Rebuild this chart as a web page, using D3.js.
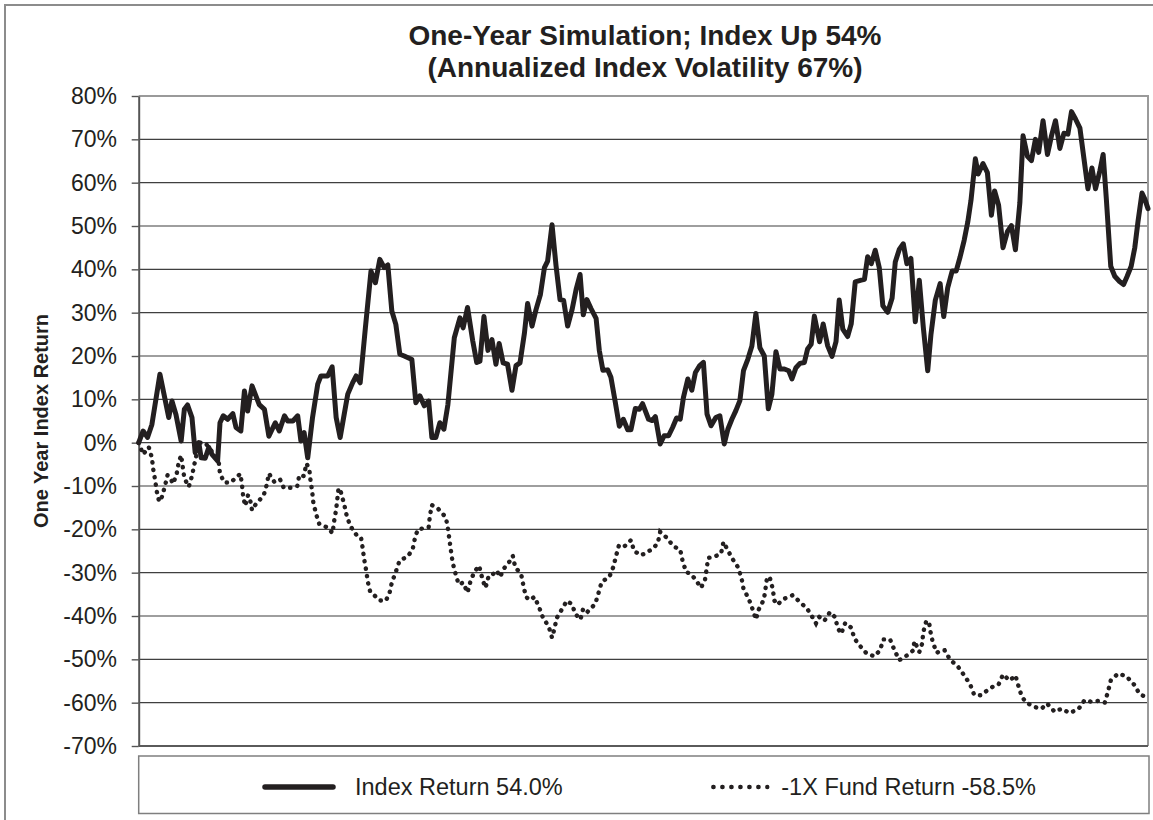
<!DOCTYPE html>
<html>
<head>
<meta charset="utf-8">
<style>
    body { margin: 0; background: #fff; }
    svg { display: block; font-family: "Liberation Sans", Arial, sans-serif; }
</style>
</head>
<body>
<script src="https://cdn.jsdelivr.net/npm/d3@7/dist/d3.min.js"></script>
<script>
// chart data (x = trading day, y = return in %)
const titleLines = ["One-Year Simulation; Index Up 54%", "(Annualized Index Volatility 67%)"]
const yTitle = "One Year Index Return"
const yTicks = [-70, -60, -50, -40, -30, -20, -10, 0, 10, 20, 30, 40, 50, 60, 70, 80]
const legendLabels = ["Index Return 54.0%", "-1X Fund Return -58.5%"]

const indexDays = [0,1.1,2.2,3.3,5.3,7.5,8.3,9.3,10.6,11.4,12.2,13.3,14.1,15,15.6,16.6,17.5,18.3,19.7,20.3,
    21.1,22.2,23.5,24.3,25.5,26.4,27.2,28.3,30.1,31.4,32.5,34.1,35.1,36.4,37.2,38.5,39.7,40.5,41.3,42.2,
    43.4,44.7,45.5,47.2,48.3,49.3,50.3,51.3,52.2,53.4,54.3,55.3,56.6,58,59.1,60.2,61.3,62.2,63.2,64.2,
    65.2,66.3,68.2,69.2,70.2,71.3,72.4,73.2,74.2,75.2,76.2,77.2,78.8,80.2,81,82.1,83.4,84.4,85.2,86.2,
    87.2,88.2,89.2,90,91,92.1,93.2,94.2,95.2,96.3,97.1,98.2,99.2,100.3,101.3,102.1,103.2,104.2,105.2,106.1,
    107.1,108.2,109.2,110.2,111,111.9,112.9,114.2,115,115.9,117.1,117.9,119,120,121,122.1,122.9,124,125,125.8,
    127.3,128.2,129,130.2,131.2,132.3,133.3,134.3,135.2,136,137.1,138.1,139,140,141,141.9,142.9,144.1,145.1,146.2,
    147.1,148.1,149.1,150.1,151,152.1,153.1,154.1,155.1,156.2,157.2,158.1,159.1,160.1,161.2,162.3,163.1,164.1,165.1,166.2,
    167,167.9,168.7,170,170.9,172,173.1,174.1,174.9,175.8,177,177.9,178.9,180.4,181.2,182,182.9,183.9,184.9,185.8,
    187,188.1,188.9,189.9,190.9,191.8,192.8,193.9,194.9,195.9,197,197.8,198.9,200.1,201,202,203.1,204.1,205.1,206.1,
    207,207.8,208.9,209.6,210.8,211.9,212.9,213.7,214.7,215.8,216.9,217.9,218.9,220,220.8,221.9,222.9,223.9,224.7,225.8,
    226.9,227.9,228.9,230,231,232,232.9,233.9,235,236,237,238,238.9,240,240.8,241.6,242.7,243.7,244.9,245.9,
    246.8,247.8,248.7,249.5,250.5,251.2,252]
const indexValues = [0,2.7,1.2,4.2,15.8,5.8,9.6,6.5,0.4,7.7,8.7,5.8,-2.3,0,-3.5,-3.6,-1.1,-2.7,-4.2,4.6,
    6.2,5.4,6.7,3.5,2.7,11.9,7.3,13.1,8.8,7.7,1.5,4.6,2.7,6.2,5,5,6.2,0.4,2.3,-3.5,
    5.8,13.5,15.4,15.4,17.5,5.8,1.2,6.5,11.2,13.8,15.4,13.8,26.5,39.6,36.9,42.3,40.4,41,30.4,27.3,
    20.4,20,19.2,9.2,10.8,8.5,9.6,1.2,1.2,4.6,3.1,8.8,24.2,28.8,26.5,31.2,23.5,18.5,18.8,29.1,
    21.3,23.8,18.1,22.9,18.4,18.1,12.1,17.8,18.4,25.2,32.1,26.9,30.7,34.2,40.4,41.9,50.3,40.8,33,32.8,
    26.9,30.7,35.3,38.8,29.5,33,31,28.7,21.3,16.7,16.8,15.1,9.3,3.8,5.4,3,3,7.9,7.7,9,
    5.4,5.1,6,-0.3,1.6,1.6,3.5,5.7,5.4,10.4,14.7,12.1,16.2,17.7,18.5,6.6,3.9,5.8,6.2,-0.3,
    3.1,5.4,7.4,9.7,16.6,19.3,22.3,29.8,21.9,20,7.8,11.2,21,17,17,16.6,14.7,17.3,18.3,18.5,
    21.6,22.7,29.2,23.3,27.4,22.4,19.9,23.3,32.9,26.2,24.5,27.4,37.1,37.5,37.7,42.9,41.3,44.4,40.4,31.6,
    30.1,33.3,41.7,44.6,45.9,41.3,42.5,27.9,37.5,26.6,16.6,24.9,32.9,36.7,29.1,35.8,39.6,39.6,42.9,46.7,
    50.9,55.9,65.5,62,64.4,62.3,52.5,58.1,54.8,45,48.7,50.1,44.5,55.3,70.8,66.1,65.1,70,67,74.3,
    66.5,70.8,74.3,67.9,71.4,71.2,76.4,74.7,72.6,65.6,58.6,63.4,58.6,62.8,66.5,56.2,40.7,38.4,37.2,36.5,
    38.4,40.7,45,51,57.6,56.2,54]

const fundDays = [0,1.1,2.5,3.3,3.6,4.1,4.5,5.1,5.8,6.5,7.2,7.9,8.6,9.5,10,10.6,11,11.4,12.5,13.3,
    13.9,15.1,16.6,17.8,18.9,20,20.3,21.4,23,24.1,25.4,25.8,26.1,26.6,27.3,27.8,28.3,29.3,31.2,32,
    32.5,33.9,35.3,36.2,38,39.6,40.1,41.2,41.9,42.6,42.9,43.3,43.6,44.3,45.1,47.2,48.4,48.8,49.3,49.9,
    50.5,51.3,51.9,52.8,54.3,55.5,55.9,56.3,56.8,57.2,57.8,58.8,60.1,61.7,62.6,63.2,64.2,65.1,67.2,68.4,
    69,69.7,70.9,72.4,72.7,73.2,74.7,75.9,76.7,77.2,77.6,78,78.4,79.1,79.9,81,82.1,82.8,83.8,85,
    85.7,86.3,86.6,87.4,88.4,89.4,90.2,91.3,92.7,93.4,94,95.5,96.1,96.7,97.7,98.8,99.9,100.9,102.4,103.2,
    103.8,104.4,105.7,106.9,108.2,109,110.3,111,112.1,114,114.8,115.6,117.5,118.5,119.2,119.9,121.2,122.9,123.7,125.4,
    126.7,128.3,129.6,130.2,131.8,133.5,135.2,135.8,136.7,137.7,138.9,140.4,141.4,141.8,142.2,144,145.4,146,146.8,148.1,
    149.6,150.5,151,152.3,153.3,154.1,154.8,156.1,156.5,156.9,157.6,158.3,158.7,159.4,161.2,163.3,165.1,166.9,168.3,169.1,
    169.9,171.2,172.6,173.9,174.5,175.4,176.4,177.9,178.7,180.1,181.8,183.7,185.1,185.9,187.6,188.7,189.9,191.8,193.3,193.7,
    194.9,195.6,195.9,196.6,197.3,197.7,198.3,199.3,200.3,201.2,202.6,204.5,206.1,207.6,208.6,210.3,212.1,213.3,214.7,215.8,
    217.5,218.9,219.7,220.5,221.6,223.7,225.4,226.8,228.7,230.4,232.5,234.7,236.2,237.9,239.5,241.2,242,242.7,244.5,246.6,
    248.5,249.9,251.6,252]
const fundValues = [0,-2.7,-1,-3.5,-6,-8.6,-11.2,-13.6,-12.5,-10.2,-7.5,-8.2,-9.5,-7.1,-4.5,-2.9,-5.6,-8.2,-10.2,-7.7,
    -5,0,0,-1.5,-2.7,-4.6,-7.2,-9.2,-9.2,-8.2,-7.2,-9.8,-12.5,-14.6,-12.1,-13.1,-15.6,-14.1,-12.2,-9.6,
    -7.1,-9.1,-8.5,-10.4,-10.4,-10,-7.5,-7.7,-4.8,-6.2,-8.7,-11.2,-13.8,-16.5,-18.8,-19.6,-20.9,-18.1,-15.4,-10.5,
    -11.5,-14.2,-16.7,-19.2,-21.2,-21.8,-24.2,-26.9,-29.5,-32.1,-34.4,-35.2,-36.4,-36.5,-34.8,-32.3,-29.8,-27.3,-26.2,-24.6,
    -21.9,-20,-19.8,-19.5,-16.9,-14.4,-15.2,-16.4,-17.3,-19.8,-22.5,-25.2,-27.7,-30.2,-32.7,-32.3,-34.6,-32.1,-29.8,-28.4,
    -31,-32.8,-33.5,-30.7,-30.4,-29.5,-31,-28.9,-27.3,-26.1,-28.7,-30.4,-33.2,-35.6,-36.3,-35.6,-37.8,-40.3,-42.5,-45,
    -42.9,-40.4,-38.4,-36.5,-37.3,-39.5,-40.8,-38.2,-39,-37.2,-34.7,-32.1,-31,-28.7,-26.1,-23.7,-24,-22.5,-25,-26,
    -25.4,-24.5,-23.2,-20.6,-21.9,-23.9,-24.7,-27.3,-29.9,-30.2,-31.4,-33.5,-31.6,-29.1,-26.6,-26.2,-25.6,-22.9,-24.3,-26.6,
    -28.7,-31.2,-33.7,-36,-38.5,-40.8,-38.5,-36.2,-33.7,-31,-31.2,-33.7,-36.4,-37.4,-36,-35.2,-36.8,-38.3,-40.4,-41.7,
    -40.2,-41.1,-39.1,-40.3,-42.7,-44.1,-41.6,-42.7,-45.2,-46.9,-48.7,-49.3,-47.9,-45.4,-45.4,-47.9,-50.2,-49.1,-48,-45.8,
    -48.3,-46.4,-43.7,-41.3,-41.2,-43.7,-46.2,-48.5,-47.9,-47.9,-50.1,-51.6,-53.7,-55.8,-58.2,-58.3,-57,-56.3,-55.8,-53.5,
    -54.9,-53.7,-56.3,-58.6,-60,-61,-61.4,-60.2,-62.1,-61.4,-62.4,-61.4,-59.4,-59.8,-59.6,-60,-57.5,-54.9,-53.3,-53.9,
    -55.8,-58,-58.8,-58.5]

const w = 1153, h = 820
const ink = "#231f20"
const plot = {left: 138.7, right: 1148, top: 96, bottom: 746}

const svg = d3.select("body").append("svg").attr("width", w).attr("height", h)

// outer chart border (right and bottom run off the picture)
svg.append("rect").attr("x", 5).attr("y", 5).attr("width", 1170).attr("height", 840)
    .attr("fill", "none").attr("stroke", "#8c8c8c").attr("stroke-width", 2)

const x = d3.scaleLinear().domain([0, 252]).range([plot.left, plot.right])
const y = d3.scaleLinear().domain([-70, 80]).range([plot.bottom, plot.top])

// gridlines
svg.append("g").selectAll("line").data(yTicks.filter(d => d > -70 && d < 80)).join("line")
    .attr("x1", plot.left).attr("x2", plot.right)
    .attr("y1", d => y(d)).attr("y2", d => y(d))
    .attr("stroke", "#3f3f3f").attr("stroke-width", 1.2)

// top / right frame
svg.append("path")
    .attr("d", `M${plot.left},${plot.top}H${plot.right}V${plot.bottom}`)
    .attr("fill", "none").attr("stroke", "#9a9a9a").attr("stroke-width", 2)

// bottom axis line
svg.append("line").attr("x1", plot.left).attr("x2", plot.right)
    .attr("y1", plot.bottom).attr("y2", plot.bottom)
    .attr("stroke", "#5a5a5a").attr("stroke-width", 2)

// y axis
const yAxis = d3.axisLeft(y).tickValues(yTicks).tickFormat(d => d + "%")
    .tickSize(7).tickSizeOuter(0).tickPadding(14.7)
const gy = svg.append("g").attr("transform", `translate(${plot.left},0)`).call(yAxis)
gy.select(".domain").attr("stroke", "#555").attr("stroke-width", 2)
gy.selectAll(".tick line").attr("stroke", "#555").attr("stroke-width", 1.4)
gy.selectAll(".tick text")
    .attr("font-size", 23).attr("font-family", "Liberation Sans, Arial, sans-serif").attr("fill", ink)

// series
const line = d3.line().x(d => x(d[0])).y(d => y(d[1]))
const indexData = indexDays.map((d, i) => [d, indexValues[i]])
const fundData = fundDays.map((d, i) => [d, fundValues[i]])

svg.append("path").datum(indexData).attr("d", line)
    .attr("fill", "none").attr("stroke", ink).attr("stroke-width", 5)
    .attr("stroke-linejoin", "round").attr("stroke-linecap", "round")

svg.append("path").datum(fundData).attr("d", line)
    .attr("fill", "none").attr("stroke", ink).attr("stroke-width", 4.4)
    .attr("stroke-linecap", "round").attr("stroke-dasharray", "0.3 7.2")

// titles
svg.append("g").selectAll("text").data(titleLines).join("text")
    .attr("x", 645).attr("y", (d, i) => 45 + i * 32)
    .attr("text-anchor", "middle").attr("font-size", 28).attr("font-weight", "bold")
    .attr("fill", ink).text(d => d)

svg.append("text")
    .attr("transform", `translate(48,${(plot.top + plot.bottom) / 2}) rotate(-90)`)
    .attr("text-anchor", "middle").attr("font-size", 20).attr("font-weight", "bold")
    .attr("fill", ink).text(yTitle)

// legend
const lg = svg.append("g")
lg.append("rect").attr("x", plot.left).attr("y", 756).attr("width", plot.right + 1 - plot.left).attr("height", 57.5)
    .attr("fill", "#fff").attr("stroke", "#7f7f7f").attr("stroke-width", 1.5)

lg.append("line").attr("x1", 265).attr("x2", 333).attr("y1", 787).attr("y2", 787)
    .attr("stroke", ink).attr("stroke-width", 5.5).attr("stroke-linecap", "round")
lg.append("text").attr("x", 355).attr("y", 795).attr("font-size", 23.5).attr("fill", ink).text(legendLabels[0])

const fundLabel = lg.append("text").attr("x", 1036).attr("y", 795).attr("text-anchor", "end")
    .attr("font-size", 23.5).attr("fill", ink).text(legendLabels[1])
const labelStart = 1036 - fundLabel.node().getComputedTextLength()
lg.append("line").attr("x1", labelStart - 68).attr("x2", labelStart - 14).attr("y1", 787).attr("y2", 787)
    .attr("stroke", ink).attr("stroke-width", 4.4).attr("stroke-linecap", "round").attr("stroke-dasharray", "0.3 8.7")
</script>
</body>
</html>
